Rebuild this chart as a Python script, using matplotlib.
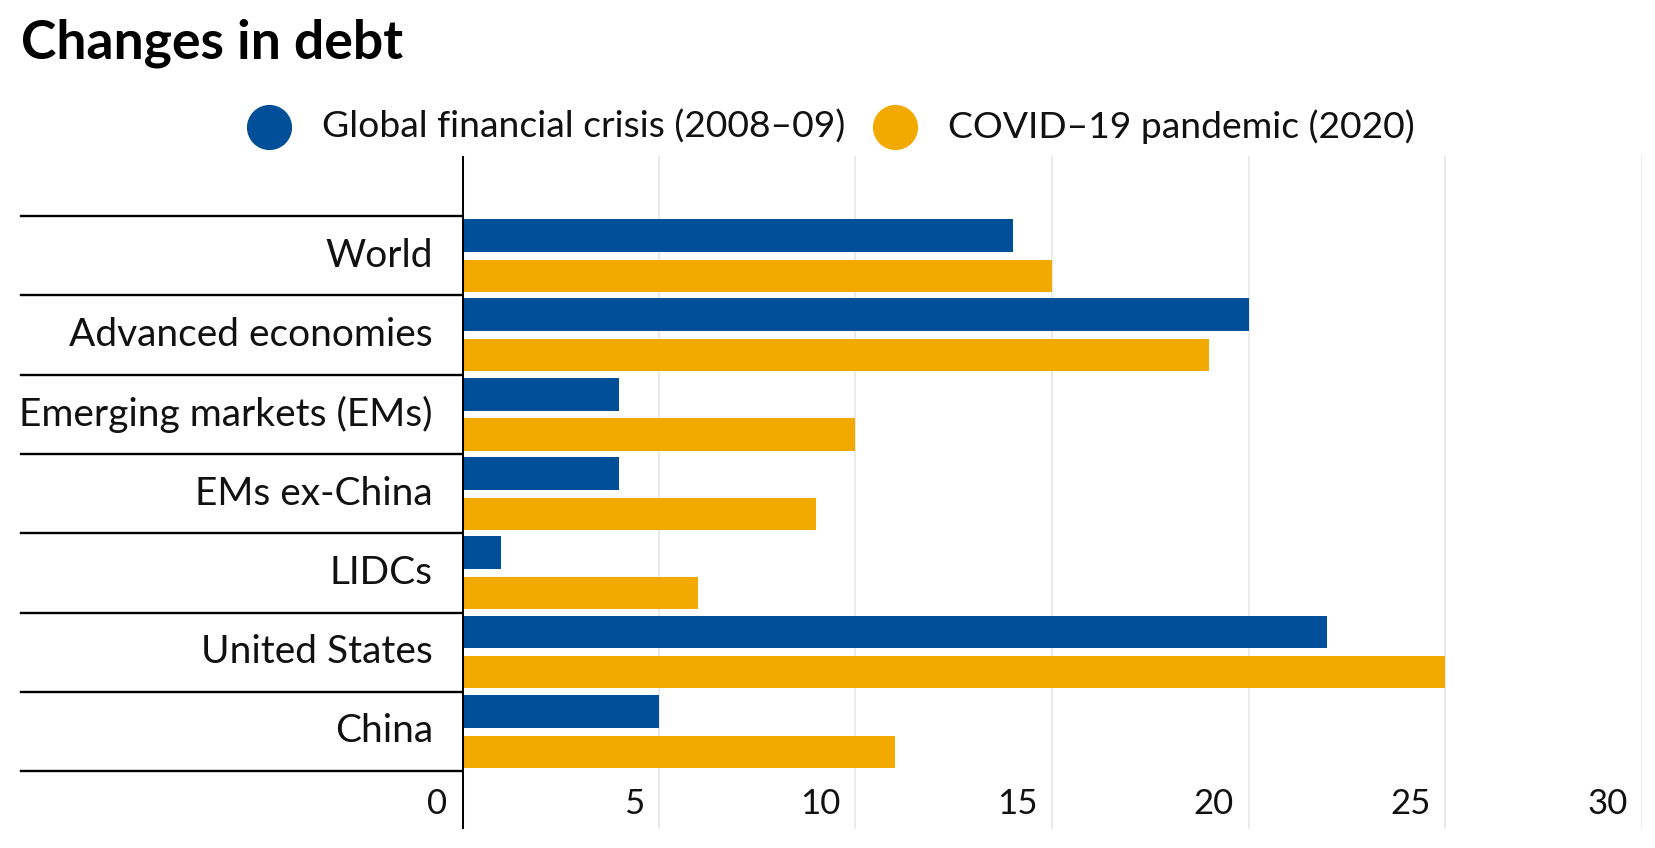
import matplotlib
matplotlib.use("Agg")
import matplotlib.pyplot as plt
import matplotlib.transforms as mtransforms
from matplotlib.lines import Line2D
import numpy as np

categories = ["World", "Advanced economies", "Emerging markets (EMs)", "EMs ex-China",
              "LIDCs", "United States", "China"]
gfc = [14, 20, 4, 4, 1, 22, 5]
covid = [15, 19, 10, 9, 6, 25, 11]
xticks = [0, 5, 10, 15, 20, 25, 30]
series_names = ["Global financial crisis (2008\u201309)", "COVID\u201319 pandemic (2020)"]
title = "Changes in debt"

BLUE = "#004f98"
ORANGE = "#f2aa00"
plt.rcParams['font.family'] = ['Lato', 'DejaVu Sans']

W, H = 1655, 848
fig = plt.figure(figsize=(W / 100, H / 100), dpi=100)
left_px, right_px, top_px, bot_px = 462, 1642, 156, 829
ax = fig.add_axes([left_px / W, 1 - bot_px / H, (right_px - left_px) / W, (bot_px - top_px) / H])
ax.set_xlim(0, 30)
ax.set_ylim(7.23, -1.258)
for s in ax.spines.values():
    s.set_visible(False)
ax.set_xticks([])
ax.set_yticks([])

for v in xticks[1:]:
    ax.axvline(v, color="#e8e8e8", lw=1.3, zorder=0)
ax.axvline(0, color="black", lw=2.9, zorder=5)

y = np.arange(len(categories))
ax.barh(y - 0.255, gfc, height=0.415, color=BLUE, zorder=3)
ax.barh(y + 0.255, covid, height=0.405, color=ORANGE, zorder=3)

blend = mtransforms.blended_transform_factory(ax.transAxes, ax.transData)
sep_x0 = (21 - left_px) / (right_px - left_px)
for b in np.arange(-0.5, len(categories) + 0.5, 1.0):
    ax.plot([sep_x0, 0], [b, b], transform=blend, color="black", lw=1.7, clip_on=False, zorder=4)

lab_x = -29 / (right_px - left_px)
for i, c in enumerate(categories):
    ax.text(lab_x, i, c, transform=blend, ha="right", va="center", fontsize=28, color="#111111")

blend2 = mtransforms.blended_transform_factory(ax.transData, ax.transAxes)
for v in xticks:
    ax.text(v - 0.37, (bot_px - 804) / (bot_px - top_px), str(v), transform=blend2,
            ha="right", va="center", fontsize=25, color="#111111")

# legend
for cx, tx, col, name in [(269, 322, BLUE, series_names[0]), (895, 948, ORANGE, series_names[1])]:
    fig.add_artist(Line2D([cx / W], [1 - 127 / H], marker="o", markersize=31.5, color=col,
                          linestyle="none", transform=fig.transFigure))
    fig.text(tx / W, 1 - 127 / H, name, ha="left", va="center", fontsize=26.8, color="#111111")

fig.text(21 / W, 1 - 58 / H, title, ha="left", va="baseline", fontsize=38.5, fontweight="bold",
         color="black")

fig.savefig("out.png", dpi=100, facecolor="white")
